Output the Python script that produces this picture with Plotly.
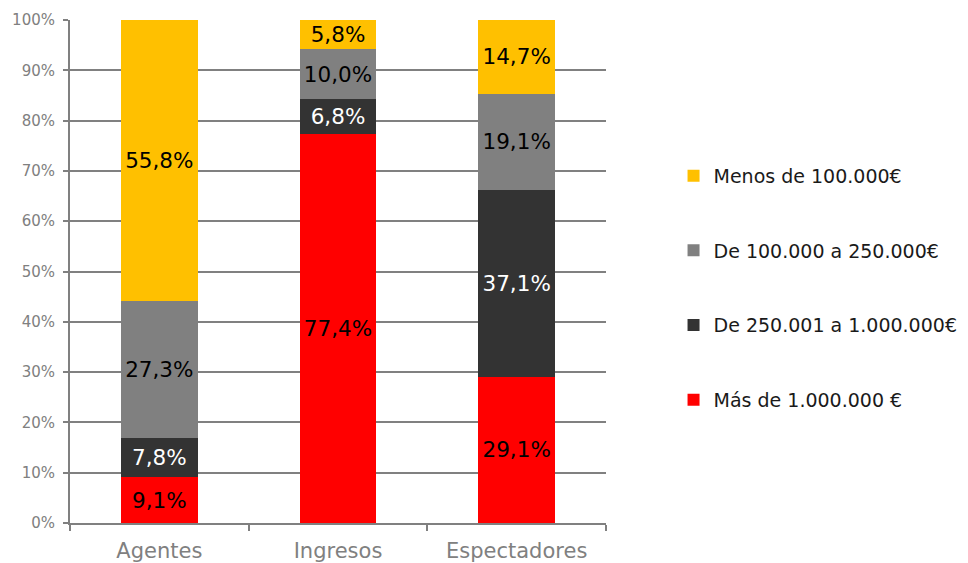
import plotly.graph_objects as go

# ── Data ─────────────────────────────────────────────
categorias = ['Agentes', 'Ingresos', 'Espectadores']

mas_1m = [9.1, 77.4, 29.1]
de_250k_1m = [7.8, 6.8, 37.1]
de_100k_250k = [27.3, 10.0, 19.1]
menos_100k = [55.8, 5.8, 14.7]

series = [
    ('Más de 1.000.000 €', mas_1m, '#FF0000', 'black'),
    ('De 250.001 a 1.000.000€', de_250k_1m, '#333333', 'white'),
    ('De 100.000 a 250.000€', de_100k_250k, '#808080', 'black'),
    ('Menos de 100.000€', menos_100k, '#FFC000', 'black'),
]

fig = go.Figure()
for i, (name, vals, color, txtcolor) in enumerate(series):
    fig.add_trace(go.Bar(
        x=categorias, y=vals, name=name,
        marker_color=color, marker_line_width=0,
        texttemplate='%{y:.1f}%', textposition='inside',
        insidetextanchor='middle', constraintext='none',
        textfont=dict(size=21.5, color=txtcolor, family='DejaVu Sans'),
        legendgroup=str(i), legendrank=len(series) - i,
    ))

# page body has an 8px margin, so the plot is offset by 8px
fig.update_layout(
    barmode='stack',
    bargap=0.57,
    separators=',.',
    width=968, height=555,
    margin=dict(l=62, r=370, t=12, b=40),
    plot_bgcolor='white', paper_bgcolor='white',
    font=dict(family='DejaVu Sans', color='#808080'),
    legend=dict(
        x=1.126, xanchor='left', y=0.728, yanchor='top',
        traceorder='grouped', tracegroupgap=47,
        font=dict(size=19, color='#1a1a1a'),
        itemwidth=30,
    ),
)
fig.update_yaxes(
    range=[0, 100], dtick=10, ticksuffix='%',
    showgrid=True, gridcolor='#808080', gridwidth=2,
    showline=True, linecolor='#808080', linewidth=2,
    ticks='outside', ticklen=5, tickcolor='#808080', tickwidth=2,
    tickfont=dict(size=15, color='#808080'),
    ticklabelstandoff=5,
    zeroline=False, automargin=False,
)
fig.update_xaxes(
    showline=True, linecolor='#808080', linewidth=2,
    ticks='outside', tickson='boundaries', ticklen=6,
    tickcolor='#808080', tickwidth=2,
    tickfont=dict(size=21, color='#808080'),
    ticklabelstandoff=8, automargin=False,
)

fig.write_html("out.html")
